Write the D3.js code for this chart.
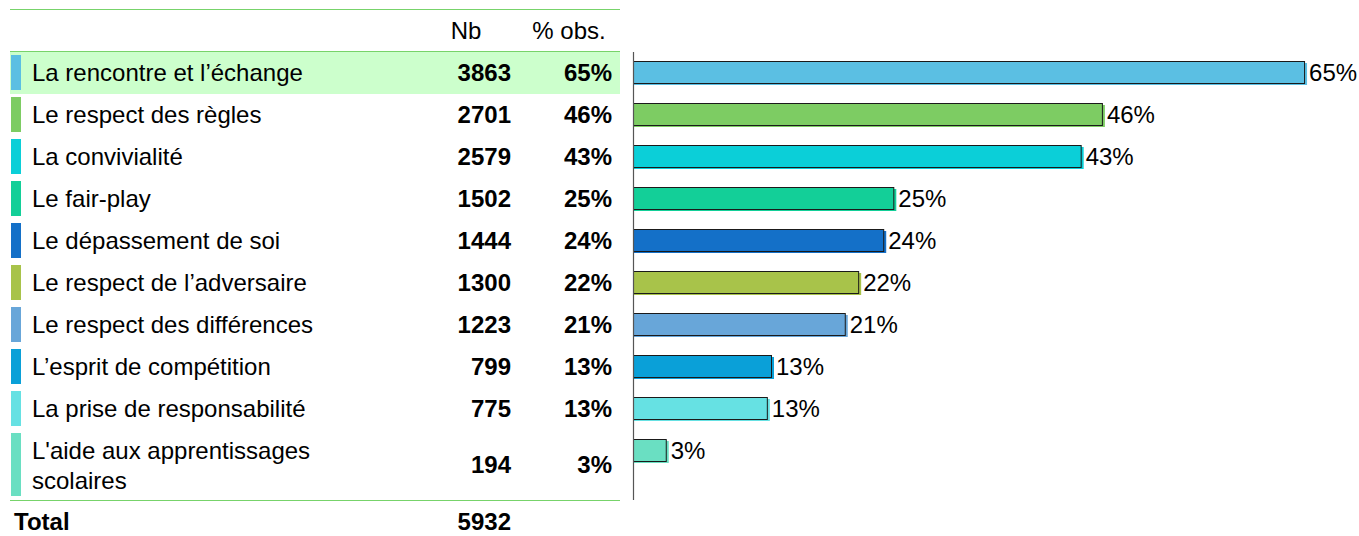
<!DOCTYPE html>
<html lang="fr">
<head>
    <meta charset="UTF-8">
    <title>Valeurs du sport</title>
    <script src="https://d3js.org/d3.v7.min.js"></script>
    <style>
        body { margin: 0; background: #fff; }
        svg text { font-family: "Liberation Sans", Arial, sans-serif; fill: #000; font-size: 24px; }
    </style>
</head>
<body>
    <svg id="chart" width="1359" height="536"></svg>

    <script>
        // data
        const categories = [
            ["La rencontre et l\u2019échange"],
            ["Le respect des règles"],
            ["La convivialité"],
            ["Le fair-play"],
            ["Le dépassement de soi"],
            ["Le respect de l\u2019adversaire"],
            ["Le respect des différences"],
            ["L\u2019esprit de compétition"],
            ["La prise de responsabilité"],
            ["L'aide aux apprentissages", "scolaires"]
        ];
        const counts = [3863, 2701, 2579, 1502, 1444, 1300, 1223, 799, 775, 194];
        const pctLabels = ["65%", "46%", "43%", "25%", "24%", "22%", "21%", "13%", "13%", "3%"];
        const total = 5932;
        const colors = ["#5bbfe3", "#7dcc63", "#0bcfd8", "#13cf98", "#1470c8",
                        "#a8c34a", "#68a6d9", "#0aa0d8", "#66e1e3", "#6adfc2"];

        const svg = d3.select("#chart");
        const green = "#77d36a";

        // row layout: regular rows 42px, last (two-line) row taller
        const rowTop = 52;
        const rowH = categories.map(c => c.length > 1 ? 70 : 42);
        const rowY = [];
        rowH.reduce((acc, h, i) => { rowY[i] = acc; return acc + h; }, rowTop);
        const tableBottom = rowY[rowY.length - 1] + rowH[rowH.length - 1];

        // lines of the table
        svg.append("line").attr("x1", 10).attr("x2", 620).attr("y1", 9.5).attr("y2", 9.5)
            .attr("stroke", green).attr("stroke-width", 1);
        svg.append("line").attr("x1", 10).attr("x2", 620).attr("y1", 51.5).attr("y2", 51.5)
            .attr("stroke", green).attr("stroke-width", 1);

        // highlighted first row
        svg.append("rect").attr("x", 10).attr("y", rowY[0]).attr("width", 610).attr("height", rowH[0])
            .attr("fill", "#ccffcc");

        svg.append("line").attr("x1", 10).attr("x2", 620).attr("y1", tableBottom + 0.5).attr("y2", tableBottom + 0.5)
            .attr("stroke", green).attr("stroke-width", 1);

        // headers
        svg.append("text").attr("x", 466).attr("y", 39).attr("text-anchor", "middle").text("Nb");
        svg.append("text").attr("x", 569).attr("y", 39).attr("text-anchor", "middle").text("% obs.");

        const rows = svg.selectAll("g.row").data(categories).join("g")
            .attr("class", "row")
            .attr("transform", (d, i) => `translate(0,${rowY[i]})`);

        rows.append("rect")
            .attr("x", 11).attr("y", 3).attr("width", 10)
            .attr("height", (d, i) => rowH[i] - 7)
            .attr("fill", (d, i) => colors[i]);

        rows.each(function (d, i) {
            const g = d3.select(this);
            const mid = rowH[i] / 2;
            const lh = 30;
            d.forEach((line, j) => {
                g.append("text")
                    .attr("x", 32)
                    .attr("y", d.length > 1 ? mid + (j - 0.5) * lh + 9 : mid + 8)
                    .text(line);
            });
            g.append("text").attr("x", 511).attr("y", mid + 8).attr("text-anchor", "end")
                .style("font-weight", "bold").text(counts[i]);
            g.append("text").attr("x", 612).attr("y", mid + 8).attr("text-anchor", "end")
                .style("font-weight", "bold").text(pctLabels[i]);
        });

        svg.append("text").attr("x", 14).attr("y", tableBottom + 30)
            .style("font-weight", "bold").text("Total");
        svg.append("text").attr("x", 511).attr("y", tableBottom + 30).attr("text-anchor", "end")
            .style("font-weight", "bold").text(total);

        // bar chart
        const x0 = 633;
        const x = d3.scaleLinear().domain([0, 1]).range([x0, x0 + 1032]);
        const barH = 22;

        const bars = svg.selectAll("g.bar").data(counts).join("g")
            .attr("class", "bar")
            .attr("transform", (d, i) => `translate(0,${rowY[i] + 9})`);

        // colored shadow
        bars.append("rect")
            .attr("x", x0 + 1).attr("y", 2)
            .attr("width", d => x(d / total) - x0 + 1)
            .attr("height", barH)
            .attr("fill", (d, i) => colors[i]);

        bars.append("rect")
            .attr("x", x0 + 0.5).attr("y", 0.5)
            .attr("width", d => x(d / total) - x0 - 1)
            .attr("height", barH)
            .attr("fill", (d, i) => colors[i])
            .attr("stroke", "#1a1a1a")
            .attr("stroke-width", 1);

        bars.append("text")
            .attr("x", d => x(d / total) + 4)
            .attr("y", barH / 2 + 9)
            .text((d, i) => pctLabels[i]);

        svg.append("line").attr("x1", x0 + 0.5).attr("x2", x0 + 0.5)
            .attr("y1", rowTop).attr("y2", tableBottom)
            .attr("stroke", "#555").attr("stroke-width", 1.2);
    </script>
</body>
</html>
